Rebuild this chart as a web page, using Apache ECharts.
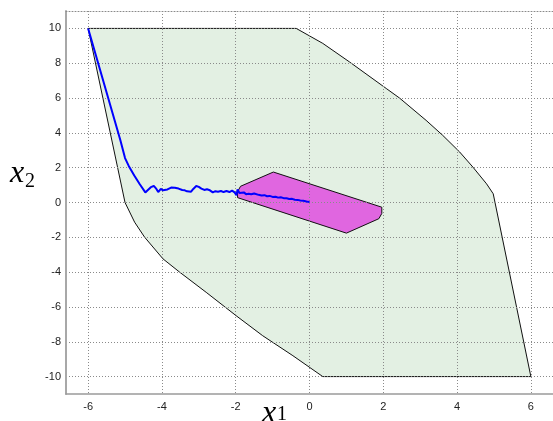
<!DOCTYPE html>
<html>
<head>
<meta charset="utf-8">
<script src="https://cdn.jsdelivr.net/npm/echarts@6/dist/echarts.min.js"></script>
<style>
html,body{margin:0;padding:0;background:#fff;}
#chart{width:553px;height:421px;}
</style>
</head>
<body>
<div id="chart"></div>
<script>
const xTicks = [-6, -4, -2, 0, 2, 4, 6];
const yTicks = [-10, -8, -6, -4, -2, 0, 2, 4, 6, 8, 10];

const outerRegion = [
  [-6, 10], [-0.36, 10], [0.36, 9.14], [1.08, 8.08], [2.08, 6.55], [2.44, 6.0],
  [3.16, 4.72], [3.61, 3.86], [4.07, 2.9], [4.43, 2.03], [4.80, 1.07], [4.98, 0.5],
  [6, -10], [0.36, -10], [-0.45, -8.8], [-1.27, -7.65], [-1.99, -6.5], [-2.80, -5.16],
  [-3.52, -4.0], [-3.97, -3.24], [-4.47, -1.99], [-4.74, -1.13], [-5.0, 0.0]
];

const innerRegion = [
  [-0.98, 1.75], [1.96, -0.27], [1.96, -0.63], [1.88, -0.93], [1.0, -1.76],
  [-1.95, 0.28], [-1.95, 0.62], [-1.87, 0.93]
];

const trajectory = [
  [-6, 10], [-5.13, 3.6], [-5.0, 2.55], [-4.9, 2.1], [-4.75, 1.55], [-4.6, 1.05], [-4.45, 0.58],
  [-4.38, 0.72], [-4.3, 0.88], [-4.22, 0.95], [-4.15, 0.78], [-4.1, 0.6], [-4.03, 0.78],
  [-3.97, 0.7], [-3.92, 0.62], [-3.85, 0.75], [-3.75, 0.86], [-3.65, 0.85], [-3.55, 0.8],
  [-3.45, 0.72], [-3.38, 0.7], [-3.32, 0.64], [-3.27, 0.68], [-3.21, 0.62], [-3.15, 0.78],
  [-3.07, 0.95], [-3.0, 0.9], [-2.93, 0.8], [-2.85, 0.72], [-2.78, 0.76], [-2.7, 0.7],
  [-2.62, 0.58], [-2.55, 0.65], [-2.48, 0.62], [-2.4, 0.66], [-2.33, 0.6], [-2.25, 0.66],
  [-2.17, 0.6], [-2.1, 0.68], [-2.03, 0.58], [-1.98, 0.42], [-1.95, 0.75], [-1.9, 0.55],
  [-1.85, 0.52], [-1.78, 0.58], [-1.72, 0.48], [-1.65, 0.5], [-1.58, 0.47], [-1.5, 0.52],
  [-1.45, 0.42], [-1.38, 0.44], [-1.3, 0.4], [-1.22, 0.42], [-1.15, 0.36], [-1.08, 0.38],
  [-1.0, 0.32], [-0.92, 0.33], [-0.85, 0.28], [-0.78, 0.3], [-0.7, 0.25], [-0.62, 0.24],
  [-0.55, 0.2], [-0.47, 0.21], [-0.4, 0.16], [-0.32, 0.15], [-0.25, 0.12], [-0.17, 0.1],
  [-0.08, 0.06], [0, 0.03]
];

const chart = echarts.init(document.getElementById('chart'), null, {renderer: 'canvas'});

function polygonSeries(points, fill, z) {
  return {
    type: 'custom',
    coordinateSystem: 'cartesian2d',
    data: points,
    encode: {x: 0, y: 1},
    z: z,
    silent: true,
    renderItem: function (params, api) {
      if (params.dataIndex !== 0) return null;
      const pts = points.map(p => api.coord(p));
      return {
        type: 'polygon',
        shape: {points: pts},
        style: {fill: fill, stroke: '#111', lineWidth: 1}
      };
    }
  };
}

const gridLine = {show: true, lineStyle: {color: '#8a8a8a', width: 1, type: [1, 2]}};
const labelFont = {color: '#222', fontFamily: 'Liberation Sans, Arial, sans-serif', fontSize: 11};

const option = {
  animation: false,
  backgroundColor: '#fff',
  grid: {left: 66, top: 11, width: 488, height: 383},
  xAxis: [{
    type: 'value', min: -6.6, max: 6.6, z: 5,
    axisLine: {show: true, onZero: false, lineStyle: {color: '#9a9a9a', width: 1.5}},
    axisTick: {show: false, customValues: xTicks},
    axisLabel: Object.assign({customValues: xTicks, margin: 7}, labelFont),
    splitLine: gridLine
  }, {
    type: 'value', min: -6.6, max: 6.6, position: 'top', z: 5,
    axisLine: {show: true, onZero: false, lineStyle: {color: '#8a8a8a', width: 1, type: [1, 2]}},
    axisTick: {show: false}, axisLabel: {show: false}, splitLine: {show: false}
  }],
  yAxis: [{
    type: 'value', min: -11, max: 11, z: 5,
    axisLine: {show: true, onZero: false, lineStyle: {color: '#a8a8a8', width: 2}},
    axisTick: {show: false, customValues: yTicks},
    axisLabel: Object.assign({customValues: yTicks, margin: 5}, labelFont),
    splitLine: gridLine
  }],
  series: [
    polygonSeries(outerRegion, '#e3f0e3', 2),
    polygonSeries(innerRegion, '#e066e0', 3),
    {
      type: 'line',
      data: trajectory,
      showSymbol: false,
      symbol: 'none',
      z: 10,
      lineStyle: {color: '#0000ff', width: 2},
      silent: true
    }
  ],
  graphic: [
    {type: 'text', left: 10, top: 158, z: 100,
     style: {text: 'x', font: 'italic 32px "Liberation Serif", serif', fill: '#000'}},
    {type: 'text', left: 25, top: 172, z: 100,
     style: {text: '2', font: '20px "Liberation Serif", serif', fill: '#000'}},
    {type: 'text', left: 262, top: 398, z: 100,
     style: {text: 'x', font: 'italic 32px "Liberation Serif", serif', fill: '#000'}},
    {type: 'text', left: 277, top: 405, z: 100,
     style: {text: '1', font: '20px "Liberation Serif", serif', fill: '#000'}}
  ]
};

chart.setOption(option);
</script>
</body>
</html>
